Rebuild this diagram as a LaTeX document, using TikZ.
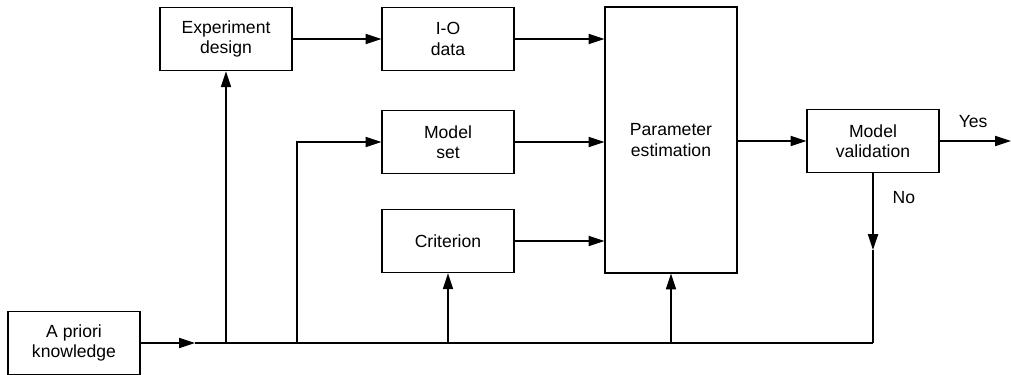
\documentclass[tikz,border=0pt]{standalone}
\usepackage{fontspec}
\setmainfont{Liberation Sans}
\usetikzlibrary{arrows.meta}
\tikzset{
  blk/.style={draw, line width=0.7pt, minimum width=2.64cm, minimum height=1.27cm,
    align=center, inner sep=1pt, font=\fontsize{10}{11.5}\selectfont},
  arr/.style={line width=0.7pt, -{Triangle[length=9pt,width=5.8pt]}},
  wire/.style={line width=0.7pt}
}

\begin{document}
\begin{tikzpicture}[x=0.02cm,y=-0.02cm]
  \useasboundingbox (0,0) rectangle (1011,375);

  % blocks
  \node[blk] (know)   at (74,343)  {A priori\\knowledge};
  \node[blk] (design) at (226,39)  {Experiment\\design};
  \node[blk] (iodata) at (448,39)  {I-O\\data};
  \node[blk] (model)  at (448,142) {Model\\set};
  \node[blk] (crit)   at (448,241) {Criterion};
  \node[blk, minimum height=5.32cm] (param) at (671,140) {Parameter\\estimation};
  \node[blk] (valid)  at (873,141) {Model\\validation};

  % bus points
  \coordinate (busmid) at (195,343);
  \coordinate (busend) at (873,343);
  \coordinate (mtap)   at (297,343);
  \coordinate (nomark) at (873,250);
  \coordinate (yesend) at (1011,141);

  % bus
  \draw[arr] (know) -- (busmid);
  \draw[wire] (busmid) -- (busend);

  \draw[arr] (design.south |- busend) -- (design);
  \draw[arr] (mtap) |- (model);
  \draw[arr] (crit.south |- busend) -- (crit);
  \draw[arr] (param.south |- busend) -- (param);

  % into estimation
  \draw[arr] (design) -- (iodata);
  \draw[arr] (iodata) -- (iodata -| param.west);
  \draw[arr] (model) -- (model -| param.west);
  \draw[arr] (crit) -- (crit -| param.west);
  \draw[arr] (param.east |- valid) -- (valid);

  % validation outcome
  \draw[arr] (valid) -- (yesend) node[pos=0.47, above=4pt, font=\fontsize{10}{12}\selectfont] {Yes};
  \draw[arr] (valid) -- (nomark) node[pos=0.32, right=7.5pt, font=\fontsize{10}{12}\selectfont] {No};
  \draw[wire] (nomark) -- (busend);

\end{tikzpicture}
\end{document}
